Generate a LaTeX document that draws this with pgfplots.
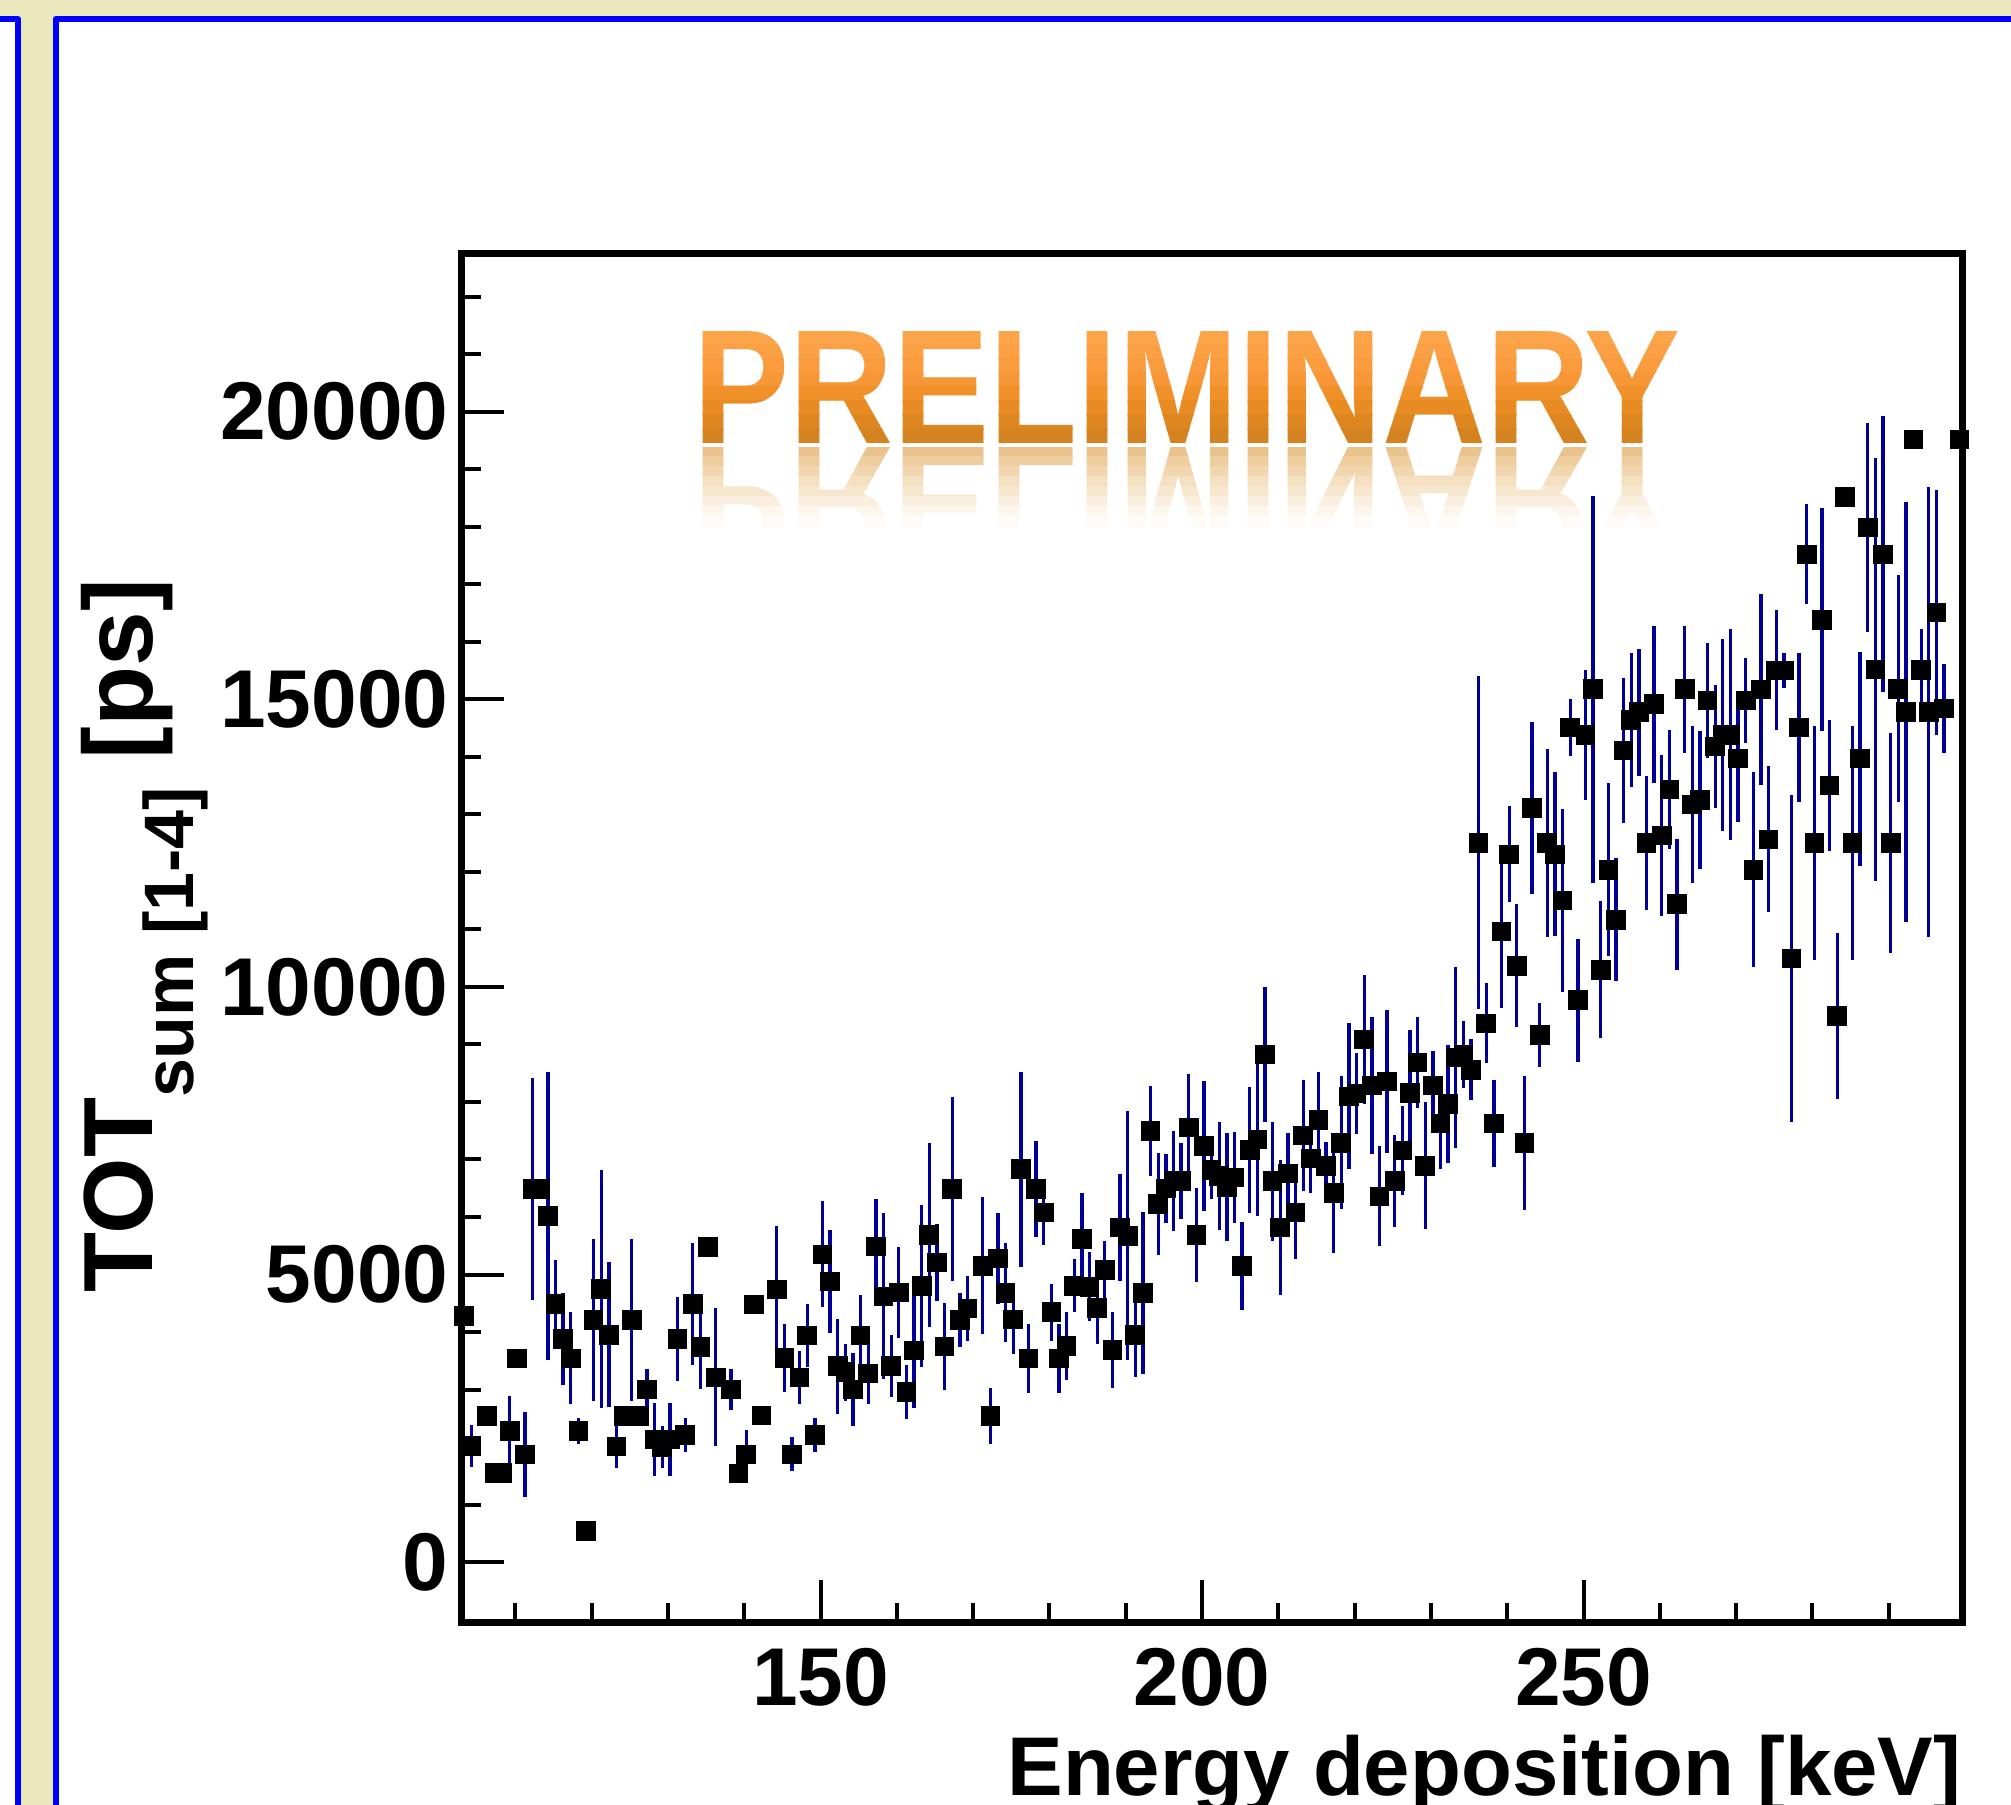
\documentclass[border=0pt]{standalone}
\usepackage{graphicx}
\usepackage{pgfplots}
\pgfplotsset{compat=1.18}
\usepackage{pgfplotstable}
\usepackage{fontspec}
\setmainfont{Liberation Sans}
\definecolor{bgyellow}{RGB}{234,231,186}
\definecolor{frameblue}{RGB}{0,0,255}
\definecolor{errblue}{RGB}{0,0,150}
\newcommand\mytickfont{\fontsize{24.6pt}{29pt}\selectfont\bfseries}
\newcommand\myxtitlefont{\fontsize{25pt}{30pt}\selectfont\bfseries}
\newcommand\myytitlefont{\fontsize{29.5pt}{34pt}\selectfont\bfseries}
\newcommand\mysubfont{\fontsize{21pt}{25pt}\selectfont\bfseries}
\newcommand\myprelim{\resizebox{296.1pt}{33.6pt}{\bfseries PRELIMINARY}}

\pgfplotstableread{
x y e
103.25 4280 0
104.25 2019 362
106.25 2546 150
107.25 1549 100
108.25 1549 100
109.25 2279 608
110.25 3543 100
111.25 1874 739
112.25 6487 1936
113.25 6487 150
114.25 6023 2503
115.25 4487 765
116.25 3879 797
117.25 3543 797
118.25 2279 230
119.25 541 0
120.25 4215 1405
121.25 4748 2066
122.25 3954 1260
123.25 2013 385
124.25 2546 100
125.25 4215 1405
126.25 2546 100
127.25 3004 362
128.25 2135 635
129.25 2007 363
130.25 2135 635
131.25 3879 724
132.25 2210 300
133.25 4487 1063
134.25 3746 730
135.25 5484 100
136.25 3212 1200
138.25 3004 362
139.25 1543 100
140.25 1874 429
141.25 4481 100
142.25 2552 100
144.25 4742 1095
145.25 3548 594
146.25 1874 298
147.25 3212 455
148.25 3942 550
149.25 2210 298
150.25 5351 924
151.25 4881 892
152.25 3409 826
153.25 3300 500
154.25 3004 630
155.25 3942 704
156.25 3282 536
157.25 5490 817
158.25 4620 1443
159.25 3415 536
160.25 4690 797
161.25 2957 464
162.25 3682 997
163.25 4806 1405
164.25 5687 1605
165.25 5211 666
166.25 3751 759
167.25 6486 1605
168.25 4215 470
169.25 4412 565
171.25 5154 1196
172.25 2540 480
173.25 5281 797
174.25 4684 860
175.25 4221 594
176.25 6829 1698
177.25 3543 594
178.25 6487 830
179.25 6081 565
180.25 4343 493
181.25 3543 594
182.25 3757 594
183.25 4806 464
184.25 5612 802
185.25 4789 600
186.25 4424 637
187.25 5078 513
188.25 3688 663
189.25 5820 924
190.25 5675 2167
191.25 3948 724
192.25 4684 1405
193.25 7495 776
194.25 6226 887
195.25 6498 594
196.25 6626 869
197.25 6626 666
198.25 7559 930
199.25 5687 811
200.25 7234 1130
201.25 6817 498
202.25 6713 936
203.25 6521 936
204.25 6689 797
205.25 5153 768
206.25 7164 1101
207.25 7349 1339
208.25 8827 1173
209.25 6625 1034
210.25 5820 1173
211.25 6758 695
212.25 6080 811
213.25 7419 962
214.25 7019 594
215.25 7691 829
216.25 6892 406
217.25 6416 1040
218.25 7292 1159
219.25 8097 1269
220.25 8149 701
221.25 9088 1127
222.25 8288 1194
223.25 6358 869
224.25 8358 1240
225.25 6625 806
226.25 7158 774
227.25 8155 1095
228.25 8688 794
229.25 6892 1101
230.25 8288 600
231.25 7628 794
232.25 7964 1029
233.25 8775 1570
234.25 8827 580
235.25 8561 533
236.25 12507 2897
237.25 9366 695
238.25 7628 762
239.25 10966 1327
240.25 12305 834
241.25 10369 1069
242.25 7286 1165
243.25 13105 1495
244.25 9164 556
245.25 12502 1631
246.25 12305 1428
247.25 11505 1594
248.25 14513 501
249.25 9767 1066
250.25 14380 1133
251.25 15174 3360
252.25 10300 1194
253.25 12038 1507
254.25 11169 1066
255.25 14113 1266
256.25 14640 1159
257.25 14774 1101
258.25 12502 1165
259.25 14913 1362
260.25 12635 1400
261.25 13435 1034
262.25 11436 1136
263.25 15174 1101
264.25 13174 1362
265.25 13250 1197
266.25 14982 994
267.25 14177 1066
268.25 14380 1677
269.25 14380 1834
270.25 13974 1100
271.25 14982 739
272.25 12038 1700
273.25 15173 1666
274.25 12565 1269
275.25 15503 1043
276.25 15503 300
277.25 10496 2839
278.25 14512 1298
279.25 17520 869
280.25 12501 2040
281.25 16384 1935
282.25 13504 1136
283.25 9494 1440
284.25 18517 0
285.25 12501 2040
286.25 13970 1860
287.25 17989 1810
288.25 15521 3680
289.25 17520 2400
290.25 12501 1918
291.25 15185 1970
292.25 14779 3650
293.25 19519 0
294.25 15515 700
295.25 14779 3906
296.25 16512 2135
297.25 14843 768
299.25 19519 0
}\datatable

\begin{document}
\begin{tikzpicture}
\useasboundingbox (0pt,0pt) rectangle (603.3pt,-541.5pt);
\begin{scope}
\clip (0pt,0pt) rectangle (603.3pt,-541.5pt);
% slide background
\fill[bgyellow] (0pt,0pt) rectangle (603.3pt,-541.5pt);
\fill[white] (-6pt,-5.7pt) rectangle (5.4pt,-550pt);
\draw[frameblue, line width=1.8pt, line join=round] (-6pt,-5.7pt) -- (5.4pt,-5.7pt) -- (5.4pt,-550pt);
\fill[white] (16.65pt,-5.7pt) rectangle (610pt,-550pt);
\draw[frameblue, line width=1.8pt, line join=round] (16.65pt,-550pt) -- (16.65pt,-5.7pt) -- (610pt,-5.7pt);

% PRELIMINARY with vertical gradient (coordinates in px, scaled 0.3)
\begin{scope}[x=0.3pt, y=0.3pt]
\foreach \ya/\yb/\cr/\cg/\cb in {331/345/252/164/74, 345/359/251/160/68, 359/373/250/156/62, 373/387/247/151/55, 387/401/240/144/40, 401/415/232/139/34, 415/429/222/135/32, 429/444/213/131/32}{
  \begin{scope}
    \clip (680,-\ya+0.5) rectangle (1700,-\yb);
    \definecolor{tmpc}{RGB}{\cr,\cg,\cb}
    \node[anchor=base west, inner sep=0pt, text=tmpc] at (693,-443) {\myprelim};
  \end{scope}
}
\foreach \ya/\yb/\cr/\cg/\cb in {447/457/234/195/140, 457/467/238/205/158, 467/477/241/214/176, 477/487/244/223/192, 487/497/247/231/207, 497/507/250/239/222, 507/517/252/246/237, 517/527/254/251/248}{
  \begin{scope}
    \clip (680,-\ya+0.5) rectangle (1700,-\yb);
    \definecolor{tmpc}{RGB}{\cr,\cg,\cb}
    \node[anchor=base west, inner sep=0pt, yscale=-1, text=tmpc] at (693,-447) {\myprelim};
  \end{scope}
}
\end{scope}

\begin{axis}[
  name=ax,
  at={(138.6pt,-486.6pt)}, anchor=south west,
  scale only axis, width=450pt, height=410.7pt,
  xmin=103, xmax=299.6, ymin=-1041, ymax=22759,
  scaled x ticks=false, scaled y ticks=false,
  axis line style={line width=2.1pt},
  xtick={150,200,250}, xticklabels={150,200,250},
  minor xtick={110,120,130,140,160,170,180,190,210,220,230,240,260,270,280,290},
  ytick={0,5000,10000,15000,20000}, yticklabels={0,5000,10000,15000,20000},
  minor ytick={1000,2000,3000,4000,6000,7000,8000,9000,11000,12000,13000,14000,16000,17000,18000,19000,21000,22000},
  tick pos=left, tick align=inside,
  major tick length=12.6pt, minor tick length=5.7pt,
  tick style={line width=1.2pt, black},
  ticklabel style={font=\mytickfont},
  yticklabel style={inner sep=0pt, xshift=-3.9pt},
  xticklabel style={inner sep=0pt, yshift=-7.8pt},
]
\addplot[draw=none, mark=none, forget plot,
  error bars/.cd, y dir=both, y explicit,
  error bar style={draw=errblue, line width=1pt, solid}, error mark=none]
  table[x=x, y=y, y error=e] {\datatable};
\addplot[only marks, mark=square*, mark size=2.8pt,
  mark options={fill=black, draw=black, line width=0pt}]
  table[x=x, y=y] {\datatable};
\end{axis}

% axis titles
\node[anchor=north east, inner sep=0pt, font=\myxtitlefont] at (588.6pt,-520.2pt) {Energy deposition [keV]};
\node[rotate=90, anchor=base, inner sep=0pt, font=\myytitlefont] at (45.6pt,-280.8pt)
  {TOT\raisebox{-0.42em}{\mysubfont sum [1-4]}\ [ps]};
\end{scope}
\end{tikzpicture}
\end{document}
